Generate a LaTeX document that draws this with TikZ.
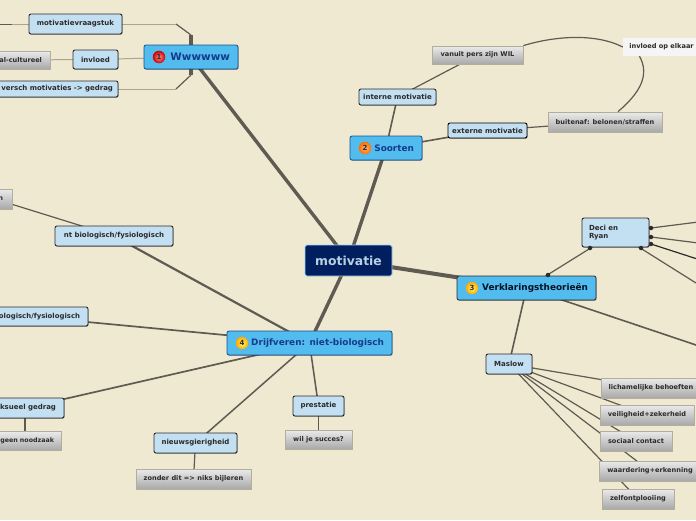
\documentclass[tikz,border=0pt]{standalone}
\usepackage{fontspec}
\setmainfont{DejaVu Sans}
\usetikzlibrary{backgrounds,shadows}
\definecolor{paper}{HTML}{F0E9D2}
\definecolor{edge}{HTML}{5F5A52}
\definecolor{tanedge}{HTML}{ABA591}
\definecolor{lightfill}{HTML}{C3DFF2}
\definecolor{mainfill}{HTML}{52BCEE}
\definecolor{navy}{HTML}{011E5F}
\definecolor{ink}{HTML}{2B2B2B}
\definecolor{mainink}{HTML}{173A8C}
\definecolor{mainline}{HTML}{1B4F8F}
\tikzset{
  x=1pt,y=-1pt,
  allbox/.style={inner sep=0pt,align=center,font=\bfseries\fontsize{6.6}{8}\selectfont,text=ink},
  lightbox/.style={allbox,draw=ink,line width=.9pt,rounded corners=2pt,fill=lightfill,
    font=\bfseries\fontsize{7}{8.4}\selectfont,
    drop shadow={shadow xshift=.6pt,shadow yshift=-.8pt,opacity=.35,fill=black}},
  greybox/.style={allbox,draw=black!22!paper!85!gray,line width=.8pt,top color=black!8,bottom color=black!34},
  notebox/.style={allbox,fill=black!4,text=ink},
  mainbox/.style={allbox,draw=mainline,line width=.8pt,rounded corners=2pt,fill=mainfill,
    font=\bfseries\fontsize{8.9}{10}\selectfont,text=mainink,inner xsep=8,align=right,
    drop shadow={shadow xshift=.6pt,shadow yshift=-.8pt,opacity=.35,fill=black}},
  centerbox/.style={allbox,draw=mainfill!60!white,line width=.9pt,rounded corners=2pt,fill=navy,
    font=\bfseries\fontsize{12.4}{14}\selectfont,text=lightfill!85!gray},
  badge/.style 2 args={circle,inner sep=0pt,minimum size=12.5pt,font=\bfseries\fontsize{7}{8}\selectfont,text=ink,
    shading=radial,inner color=#1,outer color=#2},
  dotmark/.style={circle,fill=ink,inner sep=0pt,minimum size=4.5pt},
  clipped/.style n args={2}{minimum width=#1,text width=#1-2*#2,inner xsep=#2,align=right},
  link/.style={draw=edge,line width=1.2pt},
  thin link/.style={draw=tanedge,line width=1pt},
  bold link/.style={draw=edge,line width=3.4pt}
}
\begin{document}
\begin{tikzpicture}
\useasboundingbox (0,0) rectangle (696,520);
% central and main
\node[centerbox,minimum width=87,minimum height=31] (root) at (348.5,260.5) {motivatie};
\node[mainbox,minimum width=94,minimum height=24,text width=78,font=\bfseries\fontsize{10.4}{11}\selectfont] (www) at (191,57) {Wwwwww};
\node[mainbox,minimum width=72,minimum height=24,text width=56] (soorten) at (386,148) {Soorten};
\node[mainbox,minimum width=139,minimum height=24,text width=123,text=black!75!mainink,draw=ink] (verkl) at (526.5,288) {Verklaringstheorieën};
\node[mainbox,minimum width=165,minimum height=24,text width=149] (drijf) at (309.5,343) {Drijfveren: niet-biologisch};
\node[badge={red!45!white}{red!80!black}] (b1) at (159,57) {1};
\node[badge={orange!55!white}{orange!85!red}] (b2) at (365,148) {2};
\node[badge={yellow!55!white}{orange!70!yellow}] (b3) at (472,288) {3};
\node[badge={yellow!55!white}{orange!70!yellow}] (b4) at (242,343) {4};
% branch 1
\node[lightbox,minimum width=93,minimum height=20] (vraag) at (75.5,24) {motivatievraagstuk};
\node[lightbox,minimum width=45,minimum height=19] (invl) at (95.5,59.5) {invloed};
\node[greybox,clipped={80}{8},minimum height=18] (cult) at (10,60) {al-cultureel};
\node[lightbox,clipped={128}{5},minimum height=16] (versch) at (54,89) {versch motivaties -> gedrag};
\coordinate (ta) at (191,35);
\coordinate (tb) at (176,24);
\coordinate (tl) at (12,24);
\coordinate (tf) at (0,24);
\coordinate (ba) at (191,75);
\coordinate (bb) at (176,89);
% branch 2
\node[lightbox,minimum width=77,minimum height=16] (intern) at (397.5,97) {interne motivatie};
\node[lightbox,minimum width=79,minimum height=15,draw=black] (extern) at (487.5,130.5) {externe motivatie};
\node[greybox,minimum width=91,minimum height=18] (wil) at (477.5,55) {vanuit pers zijn WIL};
\node[greybox,minimum width=114,minimum height=20] (buiten) at (605,122) {buitenaf: belonen/straffen};
\node[notebox,minimum width=77,minimum height=18] (elkaar) at (661.5,47) {invloed op elkaar};
% branch 3
\node[lightbox,minimum width=67,minimum height=29,text width=53,align=left] (deci) at (615.5,232.5) {Deci en\\Ryan};
\node[lightbox,minimum width=46,minimum height=20] (maslow) at (509,364) {Maslow};
\node[greybox,minimum width=100,minimum height=20] (m1) at (651,388) {lichamelijke behoeften};
\node[greybox,minimum width=94,minimum height=20] (m2) at (647,415) {veiligheid+zekerheid};
\node[greybox,minimum width=72,minimum height=20] (m3) at (636,441) {sociaal contact};
\node[greybox,minimum width=102,minimum height=20] (m4) at (650,471) {waardering+erkenning};
\node[greybox,minimum width=72,minimum height=20] (m5) at (638,499) {zelfontplooiing};
\coordinate (o1) at (696,222.3);
\coordinate (o2) at (696,242.7);
\coordinate (o3) at (696,258.6);
\coordinate (o4) at (696,283);
\coordinate (o5) at (696,345);
\node[dotmark] (d1) at (651,228) {};
\node[dotmark] (d2) at (651,237) {};
\node[dotmark] (d3) at (651,244) {};
\node[dotmark] (d4) at (641,248) {};
\node[dotmark] (d5) at (590,248) {};
\node[dotmark] (d6) at (548,275) {};
% branch 4
\node[lightbox,minimum width=118,minimum height=20] (ntbio) at (114,236) {nt biologisch/fysiologisch};
\node[greybox,clipped={34}{9},minimum height=20] (nn) at (-5,199) {n};
\node[lightbox,clipped={118}{8},minimum height=19,font=\bfseries\fontsize{6.9}{8.4}\selectfont] (bio) at (29,316.5) {ologisch/fysiologisch};
\node[lightbox,clipped={78}{8},minimum height=20] (seks) at (25,408) {ksueel gedrag};
\node[greybox,clipped={72}{2},minimum height=19,font=\bfseries\fontsize{6.3}{8}\selectfont] (geen) at (25,441) {geen noodzaak\hspace*{5pt}};
\node[lightbox,minimum width=83,minimum height=20] (nieuw) at (195.5,443) {nieuwsgierigheid};
\node[greybox,minimum width=115,minimum height=20] (zonder) at (193.5,479) {zonder dit => niks bijleren};
\node[lightbox,minimum width=51,minimum height=20] (prest) at (318.5,406) {prestatie};
\node[greybox,minimum width=67,minimum height=19] (succes) at (318.5,439.5) {wil je succes?};
\begin{pgfonlayer}{background}
\fill[paper] (0,0) rectangle (696,520);
\draw[bold link] (root.center) -- (www.center);
\draw[bold link] (root.center) -- (soorten.center);
\draw[bold link,line width=4pt] (root.center) -- (verkl.center);
\draw[bold link] (root.center) -- (drijf.center);
\draw[bold link] (www.center) -- (ta);
\draw[bold link] (www.center) -- (ba);
\draw[link] (ta) -- (tb);
\draw[link] (ba) -- (bb);
\draw[thin link] (tb) -- (vraag.center);
\draw[thin link] (bb) -- (versch.center);
\draw[thin link] (vraag.center) -- (tl);
\draw[link,line width=.9pt] (tl) -- (tf);
\draw[thin link] (www.center) -- (invl.center);
\draw[thin link] (invl.center) -- (cult.center);
\draw[link,line width=1.6pt] (soorten.center) -- (intern.center);
\draw[link,line width=1.6pt] (soorten.center) -- (extern.center);
\draw[link] (intern.center) -- (wil.center);
\draw[link] (extern.center) -- (buiten.center);
\draw[link] (wil.north east) .. controls (555,36) and (595,33) .. (elkaar.west);
\draw[link] (elkaar.south) ++(-22,0) .. controls (650,75) and (640,93) .. ([xshift=13]buiten.north);
\draw[link] (verkl.center) -- (deci.center);
\draw[link,line width=1.6pt] (verkl.center) -- (maslow.center);
\draw[link,line width=1.6pt] (verkl.center) -- (o5);
\draw[link] (deci.center) -- (o1);
\draw[link] (deci.center) -- (o2);
\draw[link,draw=ink] (deci.center) -- (o3);
\draw[link] (deci.center) -- (o4);
\foreach \t in {m1,m2,m3,m4,m5} \draw[link] (maslow.center) -- (\t.center);
\draw[link,line width=2.2pt] (drijf.center) -- (ntbio.center);
\draw[link] (ntbio.center) -- (nn.center);
\draw[link,line width=1.7pt] (drijf.center) -- (bio.center);
\draw[link,line width=1.7pt] (drijf.center) -- (seks.center);
\draw[link] (seks.center) -- (geen.center);
\draw[link,line width=1.5pt] (drijf.center) -- (nieuw.center);
\draw[link] (nieuw.center) -- (zonder.center);
\draw[link,line width=1.5pt] (drijf.center) -- (prest.center);
\draw[link] (prest.center) -- (succes.center);
\end{pgfonlayer}
\end{tikzpicture}
\end{document}
